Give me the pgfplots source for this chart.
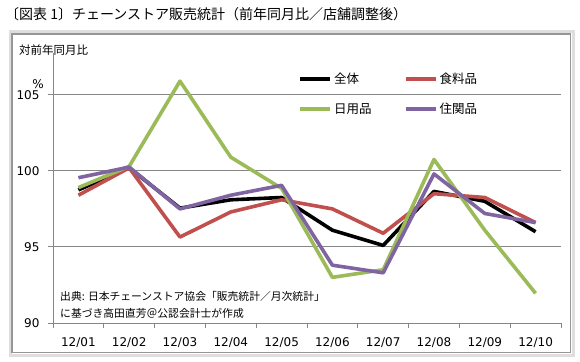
\documentclass[border=0pt]{standalone}
\usepackage{fontspec}
\usepackage{pgfplots}
\pgfplotsset{compat=1.18}
\setmainfont{DejaVu Sans}
\newfontfamily\jp{Noto Sans CJK JP}
\definecolor{cTot}{RGB}{0,0,0}
\definecolor{cFood}{RGB}{192,80,77}
\definecolor{cDaily}{RGB}{155,187,89}
\definecolor{cHome}{RGB}{128,100,162}
\definecolor{gridc}{RGB}{134,134,134}
\definecolor{framec}{RGB}{150,150,150}
\definecolor{bandc}{RGB}{222,222,222}
\begin{document}
\begin{tikzpicture}
\path[use as bounding box] (0pt,0pt) rectangle (580pt,361pt);
\draw[bandc, line width=3pt] (10pt,329pt) rectangle (573pt,6pt);
\draw[framec, line width=1.2pt] (12pt,327pt) rectangle (570.5pt,8.5pt);
\node[anchor=west, inner sep=0pt, font=\jp\fontsize{14}{16}\selectfont] at (5pt,347pt) {〔図表 1〕チェーンストア販売統計（前年同月比／店舗調整後）};
\begin{axis}[
  at={(53pt,38pt)}, anchor=south west, scale only axis,
  width=508pt, height=270pt,
  xmin=-0.5, xmax=9.5, ymin=90, ymax=107.75,
  axis x line*=bottom, axis y line*=left,
  axis line style={-, draw=gridc, line width=0.9pt},
  tick align=outside,
  xtick={0,...,9},
  xticklabels={12/01,12/02,12/03,12/04,12/05,12/06,12/07,12/08,12/09,12/10},
  major x tick style={draw=none},
  minor xtick={-0.5,0.5,...,9.5},
  minor tick length=5pt,
  minor x tick style={draw=gridc, line width=0.9pt},
  ytick={90,95,100,105},
  major tick length=5pt,
  y tick style={draw=gridc, line width=0.9pt},
  ymajorgrids, grid style={draw=gridc, line width=0.9pt},
  ticklabel style={font=\fontsize{12}{14}\selectfont},
  xticklabel style={yshift=-6pt},
  yticklabel style={xshift=-5pt},
  /pgf/number format/assume math mode=true,
  legend columns=2,
  legend style={draw=none, fill=none, at={(0.482,0.933)}, anchor=north west,
    font=\jp\fontsize{12.5}{14}\selectfont, inner sep=0pt,
    /tikz/every even column/.append style={column sep=30pt}, row sep=14pt},
  legend cell align=left,
  legend image code/.code={\draw[#1, line width=4pt] (0pt,0pt) -- (30pt,0pt);},
  every axis plot/.append style={line width=3.6pt, line join=round},
]
\addplot[cTot] coordinates {(0,98.75)(1,100.2)(2,97.55)(3,98.1)(4,98.25)(5,96.1)(6,95.1)(7,98.65)(8,98.0)(9,96.0)};
\addplot[cFood] coordinates {(0,98.4)(1,100.2)(2,95.65)(3,97.3)(4,98.1)(5,97.5)(6,95.9)(7,98.5)(8,98.25)(9,96.6)};
\addplot[cDaily] coordinates {(0,98.9)(1,100.3)(2,105.9)(3,100.9)(4,98.85)(5,93.0)(6,93.5)(7,100.75)(8,96.1)(9,91.95)};
\addplot[cHome] coordinates {(0,99.55)(1,100.25)(2,97.5)(3,98.4)(4,99.05)(5,93.8)(6,93.3)(7,99.8)(8,97.2)(9,96.6)};
\legend{全体,食料品,日用品,住関品}
\end{axis}
\node[anchor=west, inner sep=0pt, font=\jp\fontsize{11.5}{13}\selectfont] at (19pt,311pt) {対前年同月比};
\node[inner sep=0pt, font=\fontsize{12}{14}\selectfont] at (38pt,277pt) {\%};
\node[anchor=west, inner sep=0pt, font=\jp\fontsize{10.8}{13}\selectfont] at (60pt,65pt) {出典: 日本チェーンストア協会「販売統計／月次統計」};
\node[anchor=west, inner sep=0pt, font=\jp\fontsize{10.8}{13}\selectfont] at (60pt,48pt) {に基づき高田直芳＠公認会計士が作成};
\end{tikzpicture}
\end{document}
